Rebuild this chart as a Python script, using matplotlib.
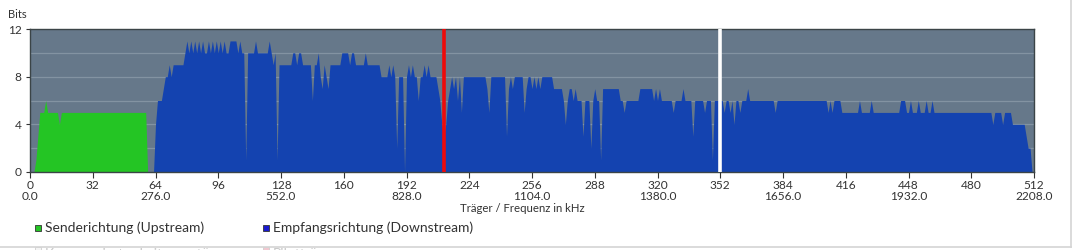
import numpy as np
import matplotlib
matplotlib.use("Agg")
import matplotlib.pyplot as plt
from matplotlib.patches import Rectangle
from matplotlib.lines import Line2D

# ---------------- data ----------------
up_start = 0
up_bits = [
    0, 0, 0, 1, 3, 5, 5, 5, 6, 5,
    5, 5, 5, 5, 5, 4, 5, 5, 5, 5,
    5, 5, 5, 5, 5, 5, 5, 5, 5, 5,
    5, 5, 5, 5, 5, 5, 5, 5, 5, 5,
    5, 5, 5, 5, 5, 5, 5, 5, 5, 5,
    5, 5, 5, 5, 5, 5, 5, 5, 5, 5,
    0, 0, 0, 0,
]

down_start = 62
down_bits = [
    0, 0, 4, 6, 6, 6, 7, 8, 8, 9,          # 62
    8, 9, 9, 9, 9, 9, 9, 10, 11, 10,       # 72
    11, 10, 11, 10, 11, 10, 11, 10, 10, 11,  # 82
    10, 11, 10, 11, 10, 11, 10, 11, 10, 10,  # 92
    11, 11, 11, 11, 10, 11, 10, 10, 1, 10,   # 102
    10, 10, 10, 11, 10, 10, 10, 10, 10, 10,  # 112
    11, 10, 9, 10, 1, 9, 9, 9, 9, 9,         # 122
    9, 9, 10, 10, 9, 10, 10, 9, 9, 9,        # 132
    9, 9, 6, 9, 9, 10, 8, 7, 9, 8,           # 142
    7, 9, 9, 9, 9, 9, 9, 10, 10, 10,         # 152
    10, 9, 10, 10, 9, 9, 9, 9, 9, 10,        # 162
    9, 9, 9, 9, 9, 9, 9, 8, 8, 8,            # 172
    8, 9, 8, 9, 8, 2, 8, 8, 8, 0,            # 182
    8, 9, 8, 9, 8, 8, 6, 8, 8, 9,            # 192
    8, 9, 8, 8, 8, 8, 7, 6, 4, 3,            # 202
    4, 6, 7, 8, 7, 8, 6, 8, 5, 8,            # 212
    8, 8, 8, 8, 8, 8, 8, 8, 8, 8,            # 222
    8, 7, 5, 8, 8, 8, 8, 8, 8, 8,            # 232
    8, 3, 7, 8, 7, 8, 8, 8, 8, 8,            # 242
    5, 7, 8, 8, 7, 8, 7, 8, 7, 8,            # 252
    8, 8, 8, 8, 8, 7, 7, 7, 7, 7,            # 262
    6, 4, 6, 7, 7, 6, 7, 6, 6, 6,            # 272
    3, 6, 6, 6, 2, 6, 7, 6, 6, 1,            # 282
    7, 7, 7, 7, 7, 7, 7, 7, 7, 6,            # 292
    6, 5, 6, 6, 6, 6, 6, 6, 6, 7,            # 302
    7, 7, 7, 7, 7, 7, 6, 7, 6, 7,            # 312
    6, 6, 6, 6, 6, 6, 5, 6, 6, 6,            # 322
    6, 7, 6, 6, 6, 6, 3, 6, 6, 6,            # 332
    6, 6, 5, 6, 6, 6, 1, 6, 6, 6,            # 342
    6, 6, 5, 6, 6, 5, 6, 4, 6, 6,            # 352
    5, 6, 6, 6, 7, 6, 6, 6, 6, 6,            # 362
    6, 6, 6, 6, 6, 6, 6, 6, 5, 6,            # 372
    6, 6, 6, 6, 6, 6, 6, 6, 6, 6,            # 382
    6, 6, 6, 6, 6, 6, 6, 6, 6, 6,            # 392
    6, 6, 6, 6, 6, 5, 6, 5, 6, 6,            # 402
    6, 6, 5, 5, 5, 5, 5, 5, 5, 5,            # 412
    5, 6, 5, 5, 5, 5, 5, 6, 5, 5,            # 422
    5, 5, 5, 5, 5, 5, 5, 5, 5, 5,            # 432
    5, 5, 6, 6, 6, 5, 5, 6, 5, 5,            # 442
    5, 6, 5, 5, 5, 6, 5, 5, 6, 5,            # 452
    5, 5, 5, 5, 5, 5, 5, 5, 5, 5,            # 462
    5, 5, 5, 5, 5, 5, 5, 5, 5, 5,            # 472
    5, 5, 5, 5, 5, 5, 5, 5, 5, 4,            # 482
    5, 5, 5, 5, 4, 5, 5, 5, 5, 4,            # 492
    4, 4, 4, 4, 4, 4, 3, 2, 2, 0,            # 502
]

pilot_carrier = 211
marker_carrier = 352

x_ticks = [0, 32, 64, 96, 128, 160, 192, 224, 256, 288, 320, 352, 384, 416, 448, 480, 512]
freq_labels = {0: "0.0", 64: "276.0", 128: "552.0", 192: "828.0", 256: "1104.0",
               320: "1380.0", 384: "1656.0", 448: "1932.0", 512: "2208.0"}
y_ticks = [0, 4, 8, 12]
y_grid = [2, 4, 6, 8, 10]

legend_items = ["Senderichtung (Upstream)", "Empfangsrichtung (Downstream)"]
legend_hidden = ["Kompensierter Leitungsstörer", "Pilotträger"]

# ---------------- style ----------------
plt.rcParams["font.family"] = ["Lato", "DejaVu Sans"]
W, H = 1073, 250
fig = plt.figure(figsize=(W / 100, H / 100), dpi=100)
fig.patch.set_facecolor("white")

ax = fig.add_axes([30 / W, (H - 172) / H, 1004 / W, 143 / H])
ax.set_facecolor("#66788a")
ax.set_xlim(0, 512)
ax.set_ylim(0, 12)

for g in y_grid:
    ax.axhline(g, color="#8393a2", lw=0.9, zorder=1)

up_x = np.arange(up_start, up_start + len(up_bits))
down_x = np.arange(down_start, down_start + len(down_bits))
ax.fill_between(up_x, 0, up_bits, color="#24c524", lw=0, zorder=2)
ax.fill_between(down_x, 0, down_bits, color="#1443b0", lw=0, zorder=2)

ax.axvline(pilot_carrier, color="#ee0a0a", lw=2.6, zorder=3)
ax.axvline(marker_carrier, color="white", lw=2.6, zorder=3)

for s in ax.spines.values():
    s.set_color("#3b4447")
    s.set_linewidth(1.0)

ax.set_yticks(y_ticks)
ax.set_yticklabels([str(v) for v in y_ticks])
ax.set_xticks(x_ticks)
ax.set_xticklabels([f"{t}\n{freq_labels[t]}" if t in freq_labels else str(t) for t in x_ticks],
                   linespacing=1.05)
ax.tick_params(axis="x", length=4, width=0.8, color="#333", pad=1.5, labelsize=8.6, labelcolor="#333")
ax.tick_params(axis="y", length=3, width=0.8, color="#333", pad=3, labelsize=8.6, labelcolor="#333")

fig.text(8 / W, 1 - 14 / H, "Bits", fontsize=8, color="#333", va="center", ha="left")
fig.text(522 / W, 1 - 208 / H, "Träger / Frequenz in kHz", fontsize=8.2, color="#333",
         va="center", ha="center")

# legend
leg_colors = ["#24c524", "#1a1ad0"]
leg_sq_x = [35, 263]
for x0, col, lab in zip(leg_sq_x, leg_colors, legend_items):
    fig.add_artist(Rectangle((x0 / W, 1 - 231 / H), 6 / W, 6 / H, transform=fig.transFigure,
                             facecolor=col, edgecolor="#333", lw=0.6))
    fig.text((x0 + 10) / W, 1 - 228 / H, lab, fontsize=10, color="#333", va="center", ha="left")

hid_colors = ["#f4f4f4", "#f2c8d0"]
for x0, col, lab in zip(leg_sq_x, hid_colors, legend_hidden):
    fig.add_artist(Rectangle((x0 / W, 1 - 253 / H), 6 / W, 6 / H, transform=fig.transFigure,
                             facecolor=col, edgecolor="#cfcfcf", lw=0.6))
    fig.text((x0 + 10) / W, 1 - 248 / H, lab, fontsize=10, color="#c8c8c8", va="top", ha="left")

# panel borders
fig.add_artist(Line2D([0, 1071 / W], [1 - 246.5 / H, 1 - 246.5 / H], transform=fig.transFigure,
                      color="#d4d4d4", lw=1.2))
fig.add_artist(Line2D([1071 / W, 1071 / W], [1 - 246.5 / H, 1], transform=fig.transFigure,
                      color="#d4d4d4", lw=1.2))

fig.savefig("out.png", dpi=100)
